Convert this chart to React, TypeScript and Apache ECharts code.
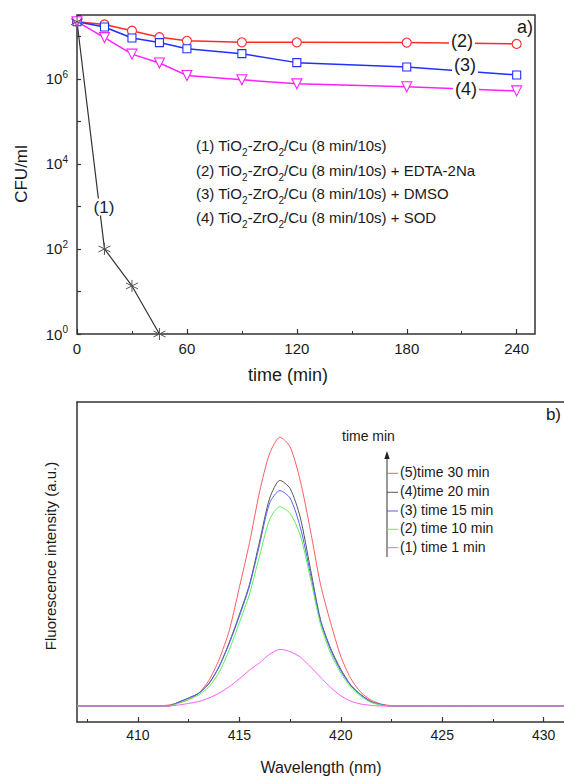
import React, { useEffect, useRef } from 'react';
import * as echarts from 'echarts';

// ---------- panel a) ----------
const TIME = [0, 15, 30, 45, 60, 90, 120, 180, 240];
const TIME_1 = [0, 15, 30, 45];
const CFU_1 = [2.2e7, 100, 13.5, 1];
const CFU_2 = [2.2e7, 1.9e7, 1.35e7, 9.5e6, 7.8e6, 7.2e6, 7.2e6, 7.1e6, 6.6e6];
const CFU_3 = [2.2e7, 1.65e7, 9.1e6, 7.1e6, 5.1e6, 3.9e6, 2.4e6, 1.9e6, 1.23e6];
const CFU_4 = [2.2e7, 9.3e6, 3.8e6, 2.35e6, 1.2e6, 9.5e5, 7.6e5, 6.5e5, 5.2e5];
const TIME_TICKS = [0, 60, 120, 180, 240];
const LEGEND_A = [
  ['(1) TiO', '-ZrO', '/Cu (8 min/10s)'],
  ['(2) TiO', '-ZrO', '/Cu (8 min/10s) + EDTA-2Na'],
  ['(3) TiO', '-ZrO', '/Cu (8 min/10s) + DMSO'],
  ['(4) TiO', '-ZrO', '/Cu (8 min/10s) + SOD'],
];

// ---------- panel b) ----------
const WL = [407, 410, 410.5, 411, 411.5, 412, 412.5, 413, 413.5, 414, 414.5, 415, 415.5, 416, 416.5, 417, 417.5, 418, 418.5, 419, 419.5, 420, 420.5, 421, 421.5, 422, 422.5, 423, 423.5, 424, 431];
const I_30 = [5, 5, 5, 5, 5.3, 6.0, 7.0, 9.0, 13, 19.5, 28.5, 42, 56, 72, 84, 89, 86, 75.5, 60, 43, 31, 20.5, 13.5, 9.2, 6.8, 5.6, 5.1, 5, 5, 5, 5];
const I_20 = [5, 5, 5, 5, 5.0, 6.2, 7.5, 9.0, 12, 17.3, 24.8, 33.5, 43, 56.5, 70, 75.5, 73, 64, 48, 32, 23, 16.5, 11.5, 8.5, 6.4, 5.4, 5.0, 5, 5, 5, 5];
const I_15 = [5, 5, 5, 5, 5.0, 6.2, 7.5, 9.0, 12, 17.2, 24.5, 33, 42.5, 55.5, 68.5, 72.3, 70, 61, 46.5, 31.5, 22.5, 16, 11.3, 8.4, 6.3, 5.4, 5.0, 5, 5, 5, 5];
const I_10 = [5, 5, 5, 5, 5.0, 5.8, 7.0, 8.5, 11, 15.5, 22.5, 31, 40, 52, 63.4, 67.3, 65.2, 58.4, 45, 30.5, 21.5, 15.3, 10.8, 8.0, 6.1, 5.3, 5.0, 5, 5, 5, 5];
const I_1 = [5, 5, 5, 5, 5.0, 5.3, 5.8, 6.4, 7.5, 9.0, 11.0, 13.5, 16.2, 18.5, 21.2, 22.7, 22.0, 20.3, 17.3, 14.0, 10.8, 8.2, 6.5, 5.6, 5.2, 5.0, 5.0, 5, 5, 5, 5];
const WL_TICKS = [410, 415, 420, 425, 430];
const WL_MINOR = [407.5, 412.5, 417.5, 422.5, 427.5];
const LEGEND_B = ['(5)time 30 min', '(4)time 20 min', '(3) time 15 min', '(2) time 10 min', '(1) time 1 min'];
const COLORS_B = ['#ff5c5c', '#555555', '#5c5cff', '#5cee5c', '#ff5cff'];

const FONT = 'Liberation Sans, Arial, sans-serif';
const INK = '#1a1a1a';

export default function App() {
  const ref = useRef<HTMLDivElement>(null);
  useEffect(() => {
    if (!ref.current) return;
    const chart = echarts.init(ref.current, undefined, { renderer: 'svg' });
    const lg = (v: number) => Math.log10(v);

    const legendB_y = [473.3, 492.3, 511, 529.3, 547.7];
    const legA_y = [145, 170, 193, 217];

    const graphic: any[] = [
      { type: 'text', x: 533, y: 27, z: 100, style: { text: 'a)', fontSize: 18, fontFamily: FONT, fill: INK, align: 'right', verticalAlign: 'middle' } },
      { type: 'text', x: 462, y: 41, z: 100, style: { text: '(2)', fontSize: 18, fontFamily: FONT, fill: INK, align: 'center', verticalAlign: 'middle', backgroundColor: '#fff', padding: [0, 2] } },
      { type: 'text', x: 465, y: 65, z: 100, style: { text: '(3)', fontSize: 18, fontFamily: FONT, fill: INK, align: 'center', verticalAlign: 'middle', backgroundColor: '#fff', padding: [0, 2] } },
      { type: 'text', x: 466, y: 89, z: 100, style: { text: '(4)', fontSize: 18, fontFamily: FONT, fill: INK, align: 'center', verticalAlign: 'middle', backgroundColor: '#fff', padding: [0, 2] } },
      { type: 'text', x: 104, y: 207, z: 100, style: { text: '(1)', fontSize: 17, fontFamily: FONT, fill: '#1a2040', align: 'center', verticalAlign: 'middle', backgroundColor: '#fff', padding: [0, 1] } },
      ...LEGEND_A.map((p, i) => ({
        type: 'text', x: 196, y: legA_y[i], z: 100,
        style: {
          text: `${p[0]}{s|2}${p[1]}{s|2}${p[2]}`,
          fontSize: 15, fontFamily: FONT, fill: INK, align: 'left', verticalAlign: 'middle',
          rich: { s: { fontSize: 10, fontFamily: FONT, fill: INK, padding: [15, 0, 0, 0] } },
        },
      })),
      { type: 'text', x: 21, y: 174, rotation: Math.PI / 2, z: 100, style: { text: 'CFU/ml', fontSize: 17, fontFamily: FONT, fill: INK, align: 'center', verticalAlign: 'middle' } },
      { type: 'text', x: 288, y: 375, z: 100, style: { text: 'time (min)', fontSize: 18, fontFamily: FONT, fill: INK, align: 'center', verticalAlign: 'middle' } },
      { type: 'text', x: 561, y: 414, z: 100, style: { text: 'b)', fontSize: 17, fontFamily: FONT, fill: INK, align: 'right', verticalAlign: 'middle' } },
      { type: 'text', x: 342, y: 436, z: 100, style: { text: 'time min', fontSize: 14, fontFamily: FONT, fill: INK, align: 'left', verticalAlign: 'middle' } },
      { type: 'line', z: 100, shape: { x1: 387, y1: 557, x2: 387, y2: 456 }, style: { stroke: '#777', lineWidth: 1.5 } },
      { type: 'polygon', z: 100, shape: { points: [[384.3, 459], [389.7, 459], [387, 451]] }, style: { fill: '#222' } },
      ...LEGEND_B.flatMap((t, i) => [
        { type: 'line', z: 100, shape: { x1: 387, y1: legendB_y[i], x2: 398, y2: legendB_y[i] }, style: { stroke: COLORS_B[i], lineWidth: 1 } },
        { type: 'text', x: 400, y: legendB_y[i] - 1, z: 100, style: { text: t, fontSize: 14, fontFamily: FONT, fill: INK, align: 'left', verticalAlign: 'middle' } },
      ]),
      { type: 'text', x: 50, y: 556, rotation: Math.PI / 2, z: 100, style: { text: 'Fluorescence intensity (a.u.)', fontSize: 15, fontFamily: FONT, fill: INK, align: 'center', verticalAlign: 'middle' } },
      { type: 'text', x: 321, y: 767, z: 100, style: { text: 'Wavelength (nm)', fontSize: 16, fontFamily: FONT, fill: INK, align: 'center', verticalAlign: 'middle' } },
    ];

    const axisLine = { show: true, lineStyle: { color: '#333', width: 1.5 } };

    chart.setOption({
      animation: false,
      backgroundColor: '#fff',
      textStyle: { fontFamily: FONT },
      graphic,
      grid: [
        { left: 77, top: 15, width: 458, height: 319, show: true, borderColor: '#333', borderWidth: 1.5, backgroundColor: 'transparent' },
        { left: 77, top: 402, width: 487, height: 320 },
      ],
      xAxis: [
        {
          gridIndex: 0, type: 'value', min: 0, max: 250, interval: 60,
          axisLine: { show: false },
          axisTick: { inside: true, length: 5, lineStyle: { color: '#333', width: 1.2 }, customValues: TIME_TICKS },
          minorTick: { show: true, splitNumber: 2, length: 3, lineStyle: { color: '#333', width: 1 } },
          splitLine: { show: false },
          axisLabel: { customValues: TIME_TICKS, fontSize: 15, color: INK, margin: 7, fontFamily: FONT },
        },
        {
          gridIndex: 1, type: 'value', min: 407, max: 431, position: 'bottom',
          axisLine,
          axisTick: { inside: true, length: 5, lineStyle: { color: '#333', width: 1.2 }, customValues: WL_TICKS },
          splitLine: { show: false },
          axisLabel: { customValues: WL_TICKS, fontSize: 14, color: INK, margin: 6, fontFamily: FONT },
        },
        {
          gridIndex: 1, type: 'value', min: 407, max: 431, position: 'bottom',
          axisLine: { show: false },
          axisTick: { inside: true, length: 3, lineStyle: { color: '#333', width: 1 }, customValues: WL_MINOR },
          splitLine: { show: false },
          axisLabel: { show: false },
        },
        {
          gridIndex: 1, type: 'value', min: 407, max: 431, position: 'top',
          axisLine,
          axisTick: { show: false },
          splitLine: { show: false },
          axisLabel: { show: false },
        },
      ],
      yAxis: [
        {
          gridIndex: 0, type: 'value', min: 0, max: 7.5, interval: 1,
          axisLine: { show: false },
          axisTick: { inside: true, length: 4, lineStyle: { color: '#333', width: 1.2 } },
          splitLine: { show: false },
          axisLabel: {
            fontSize: 15, color: INK, margin: 9,
            formatter: (v: number) => (Number.isInteger(v) && v % 2 === 0 ? `{b|10}{s|${v}}` : ''),
            rich: {
              b: { fontSize: 15, color: INK, fontFamily: FONT },
              s: { fontSize: 10, color: INK, fontFamily: FONT, padding: [0, 0, 9, 0] },
            },
          },
        },
        {
          gridIndex: 1, type: 'value', min: 0, max: 100,
          axisLine,
          axisTick: { show: false },
          splitLine: { show: false },
          axisLabel: { show: false },
        },
      ],
      series: [
        {
          type: 'line', xAxisIndex: 0, yAxisIndex: 0,
          data: TIME.map((t, i) => [t, lg(CFU_2[i])]),
          symbol: 'circle', symbolSize: 9,
          lineStyle: { color: '#ff2a2a', width: 1.5 },
          itemStyle: { color: '#fff', borderColor: '#ff2a2a', borderWidth: 1.1 },
        },
        {
          type: 'line', xAxisIndex: 0, yAxisIndex: 0,
          data: TIME.map((t, i) => [t, lg(CFU_3[i])]),
          symbol: 'rect', symbolSize: 8,
          lineStyle: { color: '#2030ff', width: 1.5 },
          itemStyle: { color: '#fff', borderColor: '#2030ff', borderWidth: 1.1 },
        },
        {
          type: 'line', xAxisIndex: 0, yAxisIndex: 0,
          data: TIME.map((t, i) => [t, lg(CFU_4[i])]),
          symbol: 'triangle', symbolRotate: 180, symbolSize: 10,
          lineStyle: { color: '#ff20ff', width: 1.5 },
          itemStyle: { color: '#fff', borderColor: '#ff20ff', borderWidth: 1.1 },
        },
        {
          type: 'line', xAxisIndex: 0, yAxisIndex: 0,
          data: TIME_1.map((t, i) => [t, lg(CFU_1[i])]),
          symbol: 'path://M10,0L10,20M1.34,5L18.66,15M1.34,15L18.66,5', symbolSize: 12,
          lineStyle: { color: '#333', width: 1.2 },
          itemStyle: { color: 'rgba(0,0,0,0)', borderColor: '#555', borderWidth: 1 },
        },
        ...[I_30, I_20, I_15, I_10, I_1].map((arr, k) => ({
          type: 'line', xAxisIndex: 1, yAxisIndex: 1,
          data: WL.map((w, i) => [w, arr[i]]),
          showSymbol: false, symbol: 'none', smooth: 0.25,
          lineStyle: { color: COLORS_B[k], width: 1 },
        })),
      ],
    });
    return () => chart.dispose();
  }, []);
  return <div ref={ref} style={{ position: 'absolute', left: 0, top: 0, width: 564, height: 776 }} />;
}
